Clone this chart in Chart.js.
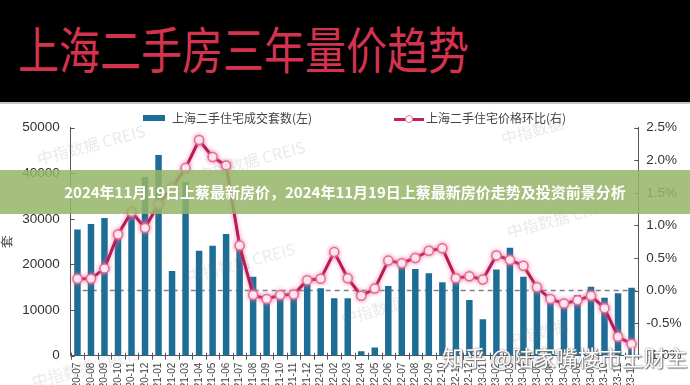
<!DOCTYPE html>
<html>
<head>
<meta charset="utf-8">
<script src="https://cdn.jsdelivr.net/npm/chart.js@4/dist/chart.umd.min.js"></script>
<style>
html, body { margin: 0; padding: 0; width: 690px; height: 385px; overflow: hidden; background: #fff; font-family: "Noto Sans CJK SC", sans-serif; }
#head { position: absolute; left: 0; top: 0; width: 690px; height: 102px; background: #000; border-bottom: 2px solid #c4c4c4; }
#head span { position: absolute; left: 18px; top: 23px; font-size: 41px; line-height: 1; color: #d3334f; white-space: nowrap; transform: scaleY(1.22); transform-origin: left top; }
#wrap { position: absolute; left: 0; top: 105px; width: 690px; height: 300px; }
.lg { position: absolute; font-size: 12px; color: #444; white-space: nowrap; line-height: 1; }
.wm { position: absolute; font-size: 16px; color: rgba(120,120,120,0.16); white-space: nowrap; transform: rotate(-15deg); font-family: "Noto Sans CJK SC", sans-serif; }
#band { position: absolute; left: 0; top: 170px; width: 690px; height: 44px; background: rgba(150,180,105,0.86); color: #fff; font-weight: bold; font-size: 15px; line-height: 44px; text-align: center; white-space: nowrap; }
#zh { position: absolute; left: 442px; top: 340px; font-size: 22px; color: #fff; white-space: nowrap; text-shadow: 0 0 2px #666, 1px 1px 1px #777; }
</style>
</head>
<body>
<div id="head"><span>上海二手房三年量价趋势</span></div>
<div id="wrap"><canvas id="chart" width="690" height="300"></canvas></div>

<div class="wm" style="left:35px;top:132px;">中指数据 CREIS</div>
<div class="wm" style="left:195px;top:148px;">中指数据 CREIS</div>
<div class="wm" style="left:500px;top:118px;">中指数据</div>
<div class="wm" style="left:185px;top:250px;">中指数据 CREIS</div>
<div class="wm" style="left:505px;top:205px;">中指数据 CREIS</div>
<div class="wm" style="left:340px;top:298px;">中指数据</div>
<div class="wm" style="left:30px;top:355px;">中指数据 CREIS</div>
<div class="wm" style="left:505px;top:320px;">中指数据</div>

<div class="lg" style="left:143px;top:115px;width:22px;height:6px;background:#1e6d96;"></div>
<div class="lg" style="left:172px;top:112px;">上海二手住宅成交套数(左)</div>
<div class="lg" style="left:394px;top:118px;width:30px;height:3px;background:#c21f5b;"></div>
<div class="lg" style="left:405px;top:115px;width:6px;height:6px;border:1.5px solid #e4779b;border-radius:50%;background:#fff;"></div>
<div class="lg" style="left:426px;top:112px;">上海二手住宅价格环比(右)</div>

<div id="band">2024年11月19日上蔡最新房价，2024年11月19日上蔡最新房价走势及投资前景分析</div>
<div id="zh">知乎 @陆家嘴楼市土财主</div>

<script>
// 月份（2020-07 至 2023-12）
const months = [
  '2020-07','2020-08','2020-09','2020-10','2020-11','2020-12',
  '2021-01','2021-02','2021-03','2021-04','2021-05','2021-06',
  '2021-07','2021-08','2021-09','2021-10','2021-11','2021-12',
  '2022-01','2022-02','2022-03','2022-04','2022-05','2022-06',
  '2022-07','2022-08','2022-09','2022-10','2022-11','2022-12',
  '2023-01','2023-02','2023-03','2023-04','2023-05','2023-06',
  '2023-07','2023-08','2023-09','2023-10','2023-11','2023-12'
];

// 二手住宅成交套数（左轴）
const volumes = [
  27700, 28900, 30200, 26500, 32000, 39200,
  44000, 18600, 38100, 23000, 24100, 26700,
  24000, 17300, 11500, 13000, 12700, 15600,
  14800, 12600, 12600, 1000, 1800, 15300,
  19400, 19000, 18100, 16100, 16100, 12200,
  8000, 18900, 23700, 17300, 14500, 11800,
  10700, 13300, 15100, 12700, 13700, 14900
];

// 二手住宅价格环比 %（右轴）
const priceMoM = [
  0.18, 0.18, 0.34, 0.86, 1.21, 0.96,
  1.33, 1.58, 1.88, 2.31, 2.05, 1.92,
  0.69, -0.07, -0.13, -0.07, -0.06, 0.16,
  0.18, 0.59, 0.19, -0.08, 0.03, 0.46,
  0.42, 0.50, 0.61, 0.65, 0.19, 0.22,
  0.17, 0.54, 0.47, 0.38, 0.05, -0.13,
  -0.20, -0.15, -0.08, -0.27, -0.71, -0.82
];

const leftTicks = [0, 10000, 20000, 30000, 40000, 50000];
const rightTicks = [-1, -0.5, 0, 0.5, 1, 1.5, 2, 2.5];

// 虚线零轴 + 向内的刻度线
const axisMarks = {
  id: 'axisMarks',
  beforeDatasetsDraw(chart) {
    const { ctx, chartArea: a, scales } = chart;
    const y0 = scales.y1.getPixelForValue(0);
    ctx.save();
    ctx.strokeStyle = '#7d7d90';
    ctx.lineWidth = 1.5;
    ctx.setLineDash([5, 4]);
    ctx.beginPath();
    ctx.moveTo(a.left + 12, y0);
    ctx.lineTo(a.right - 2, y0);
    ctx.stroke();
    ctx.restore();
  },
  afterDraw(chart) {
    const { ctx, chartArea: a, scales } = chart;
    ctx.save();
    ctx.strokeStyle = '#555';
    ctx.lineWidth = 1;
    ctx.beginPath();
    leftTicks.forEach(v => {
      const y = Math.round(scales.y.getPixelForValue(v)) + 0.5;
      ctx.moveTo(a.left, y); ctx.lineTo(a.left + 4, y);
    });
    rightTicks.forEach(v => {
      const y = Math.round(scales.y1.getPixelForValue(v)) + 0.5;
      ctx.moveTo(a.right - 4, y); ctx.lineTo(a.right, y);
    });
    const w = scales.x.width / months.length;
    for (let i = 0; i <= months.length; i++) {
      const x = Math.round(scales.x.left + i * w) + 0.5;
      ctx.moveTo(x, a.bottom - 3); ctx.lineTo(x, a.bottom + 4);
    }
    ctx.stroke();
    ctx.restore();
  }
};

// 折线的粉色光晕
const lineGlow = {
  id: 'lineGlow',
  beforeDatasetDraw(chart, args) {
    if (args.index !== 1) return;
    chart.ctx.save();
    chart.ctx.shadowColor = 'rgba(240,110,165,0.8)';
    chart.ctx.shadowBlur = 4;
  },
  afterDatasetDraw(chart, args) {
    if (args.index !== 1) return;
    chart.ctx.restore();
  }
};

const tickFont = { family: '"Liberation Sans", Arial, sans-serif', size: 13.5 };

new Chart(document.getElementById('chart').getContext('2d'), {
  type: 'bar',
  data: {
    labels: months,
    datasets: [{
      label: '上海二手住宅成交套数(左)',
      data: volumes,
      backgroundColor: '#1e6d96',
      barPercentage: 0.48,
      categoryPercentage: 1,
      yAxisID: 'y',
      order: 1
    }, {
      type: 'line',
      label: '上海二手住宅价格环比(右)',
      data: priceMoM,
      borderColor: '#b81a55',
      borderWidth: 3,
      pointRadius: 4.5,
      pointBackgroundColor: '#fff',
      pointBorderColor: '#e0708f',
      pointBorderWidth: 1.5,
      tension: 0,
      yAxisID: 'y1',
      order: 0
    }]
  },
  options: {
    responsive: false,
    animation: false,
    devicePixelRatio: 1,
    layout: { padding: { top: 22.7, left: 0, right: 0, bottom: 0 } },
    plugins: { legend: { display: false }, tooltip: { enabled: false } },
    scales: {
      x: {
        grid: { display: false, drawTicks: false },
        border: { display: true, color: '#555', width: 1 },
        ticks: { autoSkip: false, minRotation: 90, maxRotation: 90, padding: 7, color: '#444', font: { family: '"Liberation Sans", Arial, sans-serif', size: 10 } },
        afterFit(s) { s.height = 49.3; }
      },
      y: {
        position: 'left',
        min: 0, max: 50000,
        afterBuildTicks(s) { s.ticks = leftTicks.map(v => ({ value: v })); },
        grid: { display: false, drawTicks: false },
        border: { display: true, color: '#555', width: 1 },
        ticks: { padding: 11, color: '#333', font: tickFont, callback: v => String(v) },
        title: { display: true, text: '套', color: '#333', font: { size: 13 }, padding: 0 },
        afterFit(s) { s.width = 70.7; }
      },
      y1: {
        position: 'right',
        min: -1, max: 2.5,
        afterBuildTicks(s) { s.ticks = rightTicks.map(v => ({ value: v })); },
        grid: { display: false, drawTicks: false },
        border: { display: true, color: '#555', width: 1 },
        ticks: { padding: 8, color: '#333', font: tickFont, callback: v => v.toFixed(1) + '%' },
        afterFit(s) { s.width = 51.7; }
      }
    }
  },
  plugins: [axisMarks, lineGlow]
});
</script>
</body>
</html>
